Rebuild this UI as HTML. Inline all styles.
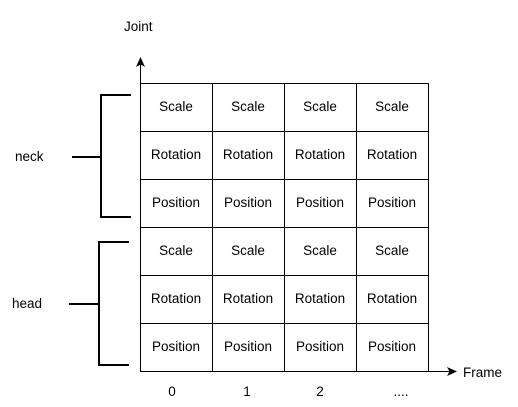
<!DOCTYPE html>
<html><head><style>html,body{margin:0;padding:0;background:#fff}svg{display:block}</style></head>
<body>
<svg width="518" height="407" xmlns="http://www.w3.org/2000/svg" font-family="Liberation Sans, Arial, sans-serif" font-size="13.5">
<rect width="518" height="407" fill="#fff"/>
<g stroke="#000" stroke-width="1" fill="none" shape-rendering="crispEdges">
<rect x="140.5" y="83.5" width="288" height="288"/>
<line x1="212.5" y1="83" x2="212.5" y2="371"/>
<line x1="284.5" y1="83" x2="284.5" y2="371"/>
<line x1="356.5" y1="83" x2="356.5" y2="371"/>
<line x1="140" y1="131.5" x2="428" y2="131.5"/>
<line x1="140" y1="179.5" x2="428" y2="179.5"/>
<line x1="140" y1="227.5" x2="428" y2="227.5"/>
<line x1="140" y1="275.5" x2="428" y2="275.5"/>
<line x1="140" y1="323.5" x2="428" y2="323.5"/>
<line x1="140.5" y1="371" x2="140.5" y2="64"/>
<line x1="140" y1="371.5" x2="450" y2="371.5"/>
</g>
<polygon points="140.5,57 145,67 140.5,64.5 136,67" fill="#000"/>
<polygon points="457,371.5 447,367 449.5,371.5 447,376" fill="#000"/>
<g stroke="#000" stroke-width="2" fill="none">
<polyline points="131,95 101,95 101,217 131,217"/>
<line x1="72" y1="157" x2="101" y2="157"/>
<polyline points="129,242 99,242 99,365 129,365"/>
<line x1="69" y1="304" x2="99" y2="304"/>
</g>
<g fill="#000" text-anchor="middle">
<text x="176" y="111">Scale</text><text x="248" y="111">Scale</text><text x="320" y="111">Scale</text><text x="392" y="111">Scale</text>
<text x="176" y="159">Rotation</text><text x="248" y="159">Rotation</text><text x="320" y="159">Rotation</text><text x="392" y="159">Rotation</text>
<text x="176" y="207">Position</text><text x="248" y="207">Position</text><text x="320" y="207">Position</text><text x="392" y="207">Position</text>
<text x="176" y="255">Scale</text><text x="248" y="255">Scale</text><text x="320" y="255">Scale</text><text x="392" y="255">Scale</text>
<text x="176" y="303">Rotation</text><text x="248" y="303">Rotation</text><text x="320" y="303">Rotation</text><text x="392" y="303">Rotation</text>
<text x="176" y="351">Position</text><text x="248" y="351">Position</text><text x="320" y="351">Position</text><text x="392" y="351">Position</text>
<text x="172" y="396">0</text><text x="247" y="396">1</text><text x="320" y="396">2</text><text x="401" y="396">....</text>
</g>
<g fill="#000">
<text x="124" y="31">Joint</text>
<text x="15" y="161">neck</text>
<text x="12" y="308">head</text>
<text x="463" y="377">Frame</text>
</g>
</svg>
</body></html>
